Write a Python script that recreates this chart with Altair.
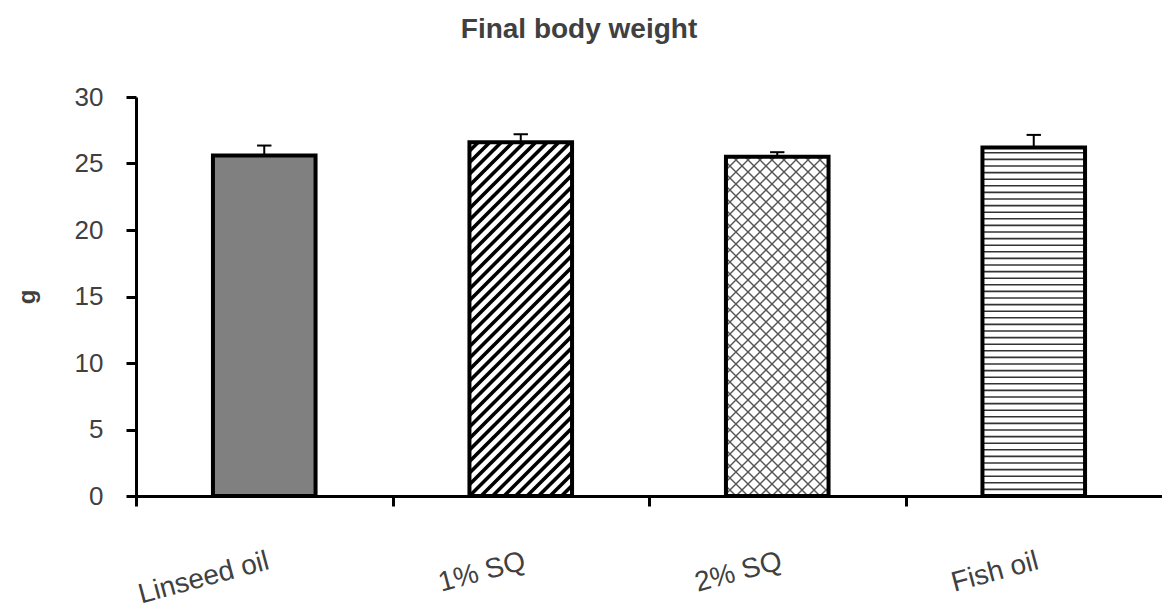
import json

import altair as alt
import numpy as np
import pandas as pd

# Final body weight per diet group (mean and standard error, grams)
categories = ["Linseed oil", "1% SQ", "2% SQ", "Fish oil"]
means = [25.6, 26.6, 25.5, 26.2]
sems = [0.75, 0.6, 0.35, 0.95]
fills = ["#808080", "white", "white", "white"]
patterns = ["solid", "diagonal", "crosshatch", "horizontal"]
y_ticks = [0, 5, 10, 15, 20, 25, 30]

PLOT_W, PLOT_H = 1026, 399
Y_MAX = 30
N = len(categories)
BAR_HALF = 0.2      # half bar width, in category units
CAP_HALF = 0.028    # half error-cap width, in category units
PX_X = PLOT_W / N
PX_Y = PLOT_H / Y_MAX

FONT = "Liberation Sans"
TEXT = "#404040"

bars = pd.DataFrame({
    "category": categories,
    "mean": means,
    "sem": sems,
    "fill": fills,
    "pattern": patterns,
})
bars["pos"] = np.arange(N) + 0.5
bars["left"] = bars["pos"] - BAR_HALF
bars["right"] = bars["pos"] + BAR_HALF
bars["base"] = 0.0
bars["err"] = bars["mean"] + bars["sem"]
bars["cap_l"] = bars["pos"] - CAP_HALF
bars["cap_r"] = bars["pos"] + CAP_HALF


def diagonal_lines(left, right, top, period, rising):
    """45-degree hatch segments clipped to a bar, returned in data units."""
    L, R, T = left * PX_X, right * PX_X, top * PX_Y
    segs = []
    if rising:  # py = px + c
        for c in np.arange(np.floor(-R / period) * period, T - L + period, period):
            a, b = max(L, -c), min(R, T - c)
            if b > a:
                segs.append((a, a + c, b, b + c))
    else:       # py = -px + c
        for c in np.arange(np.floor(L / period) * period, R + T + period, period):
            a, b = max(L, c - T), min(R, c)
            if b > a:
                segs.append((a, c - a, b, c - b))
    return [
        {"x": x1 / PX_X, "y": y1 / PX_Y, "x2": x2 / PX_X, "y2": y2 / PX_Y}
        for x1, y1, x2, y2 in segs
    ]


def horizontal_lines(left, right, top, period):
    return [
        {"x": left, "x2": right, "y": v / PX_Y, "y2": v / PX_Y}
        for v in np.arange(period, top * PX_Y, period)
    ]


stripes, cross, horiz = [], [], []
for _, row in bars.iterrows():
    if row["pattern"] == "diagonal":
        stripes += diagonal_lines(row["left"], row["right"], row["mean"], 11.5, True)
    elif row["pattern"] == "crosshatch":
        cross += diagonal_lines(row["left"], row["right"], row["mean"], 12, True)
        cross += diagonal_lines(row["left"], row["right"], row["mean"], 12, False)
    elif row["pattern"] == "horizontal":
        horiz += horizontal_lines(row["left"], row["right"], row["mean"], 6.6)

label_expr = json.dumps(categories) + "[datum.value]"

x_scale = alt.Scale(domain=[0, N], nice=False, zero=False)
y_scale = alt.Scale(domain=[0, Y_MAX], nice=False)

x_axis = alt.Axis(
    values=list(range(N)),
    title=None,
    grid=False,
    domainColor="black",
    domainWidth=3,
    tickColor="black",
    tickWidth=3,
    tickSize=10,
    labelExpr=label_expr,
    labelOffset=PX_X / 2,
    labelAngle=345,
    labelAlign="right",
    labelBaseline="top",
    labelPadding=41,
    labelFont=FONT,
    labelFontSize=28,
    labelColor=TEXT,
    labelFlush=False,
    labelOverlap=False,
    labelBound=False,
)
y_axis = alt.Axis(
    values=y_ticks,
    title="g",
    grid=False,
    domainColor="black",
    domainWidth=3,
    tickColor="black",
    tickWidth=3,
    tickSize=10,
    labelPadding=23,
    labelFont=FONT,
    labelFontSize=26,
    labelColor=TEXT,
    labelFlush=False,
    titleFont=FONT,
    titleFontSize=24,
    titleFontWeight="bold",
    titleColor=TEXT,
    titleX=-109,
    titleY=PLOT_H / 2,
    titleAlign="center",
    titleBaseline="middle",
    titleAngle=270,
)


def X(field):
    return alt.X(field, type="quantitative", scale=x_scale, axis=x_axis)


def Y(field):
    return alt.Y(field, type="quantitative", scale=y_scale, axis=y_axis)


base = alt.Chart(bars)

bar_fill = base.mark_rect(strokeWidth=0).encode(
    x=X("left"), x2="right", y=Y("base"), y2="mean",
    fill=alt.Fill("fill:N", scale=None),
)

stripe_layer = alt.Chart(pd.DataFrame(stripes)).mark_rule(
    color="black", strokeWidth=3.6
).encode(x=X("x"), x2="x2", y=Y("y"), y2="y2")

cross_layer = alt.Chart(pd.DataFrame(cross)).mark_rule(
    color="#555555", strokeWidth=1.4
).encode(x=X("x"), x2="x2", y=Y("y"), y2="y2")

horiz_layer = alt.Chart(pd.DataFrame(horiz)).mark_rule(
    color="#333333", strokeWidth=1.6
).encode(x=X("x"), x2="x2", y=Y("y"), y2="y2")

bar_outline = base.mark_rect(
    fill="transparent", stroke="black", strokeWidth=4
).encode(x=X("left"), x2="right", y=Y("base"), y2="mean")

err_stem = base.mark_rule(color="black", strokeWidth=2).encode(
    x=X("pos"), y=Y("mean"), y2="err"
)
err_cap = base.mark_rule(color="black", strokeWidth=2).encode(
    x=X("cap_l"), x2="cap_r", y=Y("err")
)

chart = (
    alt.layer(bar_fill, stripe_layer, cross_layer, horiz_layer,
              bar_outline, err_stem, err_cap)
    .properties(
        width=PLOT_W,
        height=PLOT_H,
        background="white",
        padding={"left": 136, "top": 97, "right": 0, "bottom": 113},
        autosize=alt.AutoSizeParams(type="none"),
        title=alt.TitleParams(
            "Final body weight",
            font=FONT,
            fontSize=28,
            fontWeight="bold",
            color=TEXT,
            anchor="middle",
            frame="group",
            dx=-70,
            offset=12,
            baseline="bottom",
        ),
    )
    .configure_view(stroke="transparent", strokeWidth=0)
)

chart.save("out.html", embed_options={"renderer": "svg", "actions": False})
